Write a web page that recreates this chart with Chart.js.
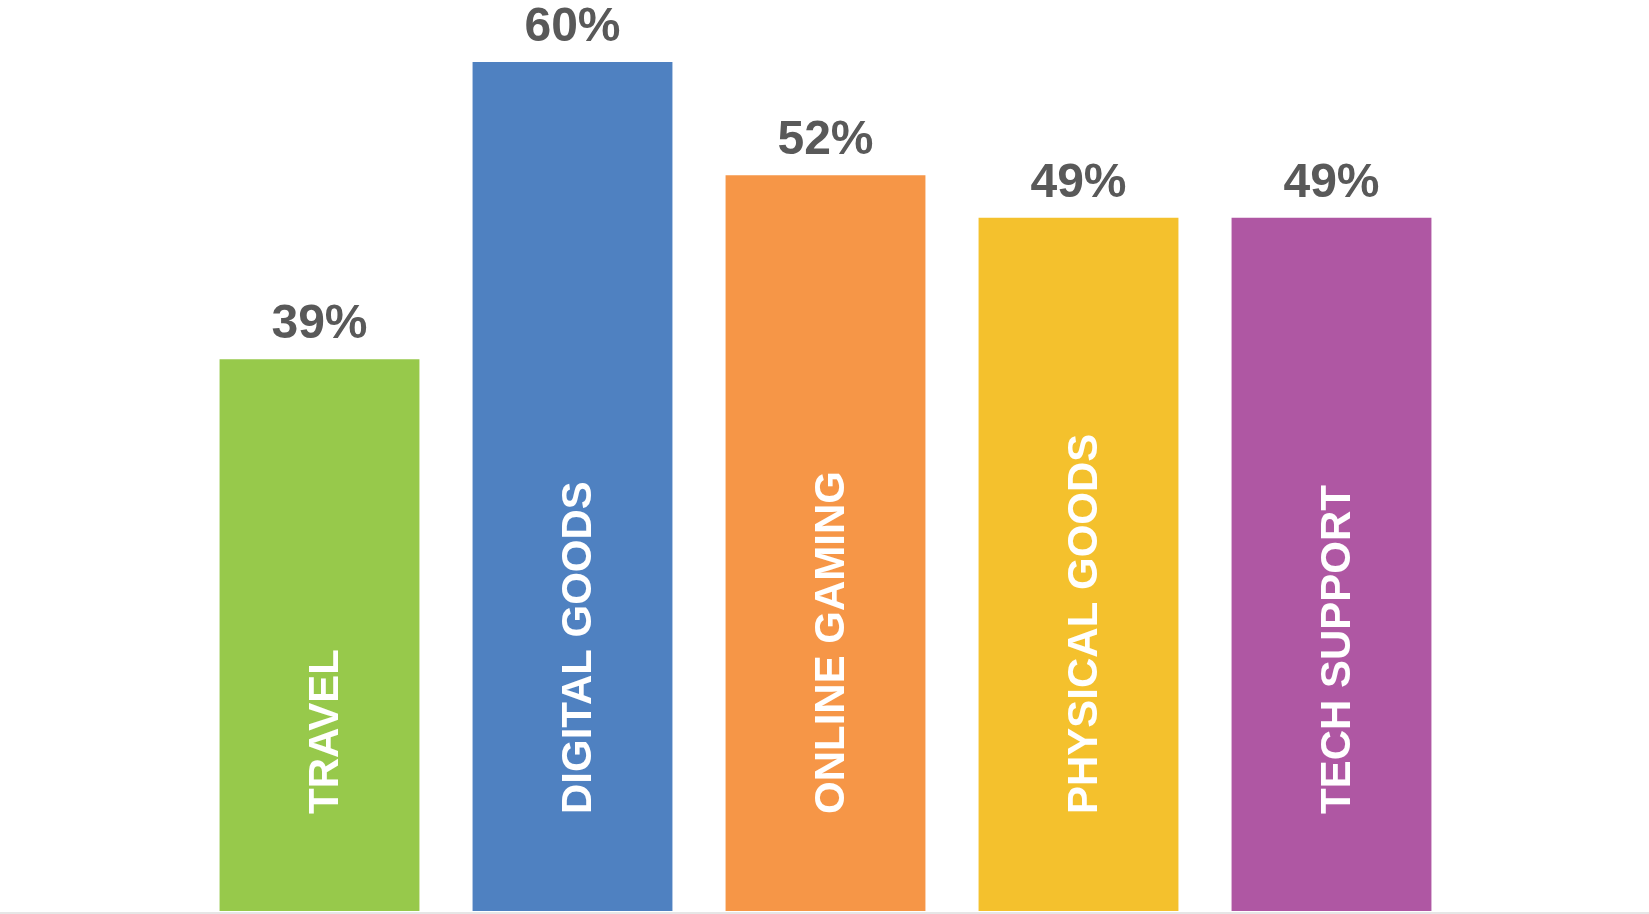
<!DOCTYPE html>
<html>
<head>
<meta charset="utf-8">
<script src="https://cdn.jsdelivr.net/npm/chart.js@4/dist/chart.umd.min.js"></script>
<style>
  html, body { margin: 0; padding: 0; background: #ffffff; }
  #wrap { position: relative; width: 1649px; height: 914px; }
</style>
</head>
<body>
<div id="wrap"><canvas id="chart"></canvas></div>
<script>
// data
const categories = ["TRAVEL", "DIGITAL GOODS", "ONLINE GAMING", "PHYSICAL GOODS", "TECH SUPPORT"];
const values = [39, 60, 52, 49, 49];

const barColors = ["#97C94B", "#4F81C1", "#F69647", "#F4C12D", "#AF57A3"];

// value labels on top + rotated category names inside the bars
const barLabels = {
    id: "barLabels",
    afterDatasetsDraw(chart) {
        const ctx = chart.ctx;
        const meta = chart.getDatasetMeta(0);
        const bottom = chart.scales.y.bottom;

        // light baseline across the whole width
        ctx.save();
        ctx.fillStyle = "#e6e6e6";
        ctx.fillRect(0, bottom + 1, chart.width, 2);
        ctx.restore();

        meta.data.forEach((bar, i) => {
            ctx.save();
            ctx.font = "bold 48px 'Liberation Sans', Arial, sans-serif";
            ctx.fillStyle = "#595959";
            ctx.textAlign = "center";
            ctx.textBaseline = "alphabetic";
            ctx.fillText(values[i] + "%", bar.x, bar.y - 21);
            ctx.restore();

            ctx.save();
            ctx.translate(bar.x + 18, bottom - 97);
            ctx.rotate(-Math.PI / 2);
            ctx.font = "bold 42px 'Liberation Sans', Arial, sans-serif";
            ctx.fillStyle = "#ffffff";
            ctx.textAlign = "left";
            ctx.textBaseline = "alphabetic";
            ctx.fillText(categories[i], 0, 0);
            ctx.restore();
        });
    }
};

const chart = new Chart(document.getElementById("chart").getContext("2d"), {
    type: "bar",
    data: {
        labels: categories,
        datasets: [{
            data: values,
            backgroundColor: barColors,
            borderWidth: 0,
            categoryPercentage: 1,
            barPercentage: 0.79,
        }],
    },
    options: {
        responsive: true,
        maintainAspectRatio: false,
        animation: false,
        layout: {
            padding: { left: 193, right: 191, top: 62, bottom: 3 },
        },
        plugins: {
            legend: { display: false },
            tooltip: { enabled: false },
        },
        scales: {
            x: { display: false },
            y: { display: false, min: 0, max: 60 },
        },
    },
    plugins: [barLabels],
});
</script>
</body>
</html>
